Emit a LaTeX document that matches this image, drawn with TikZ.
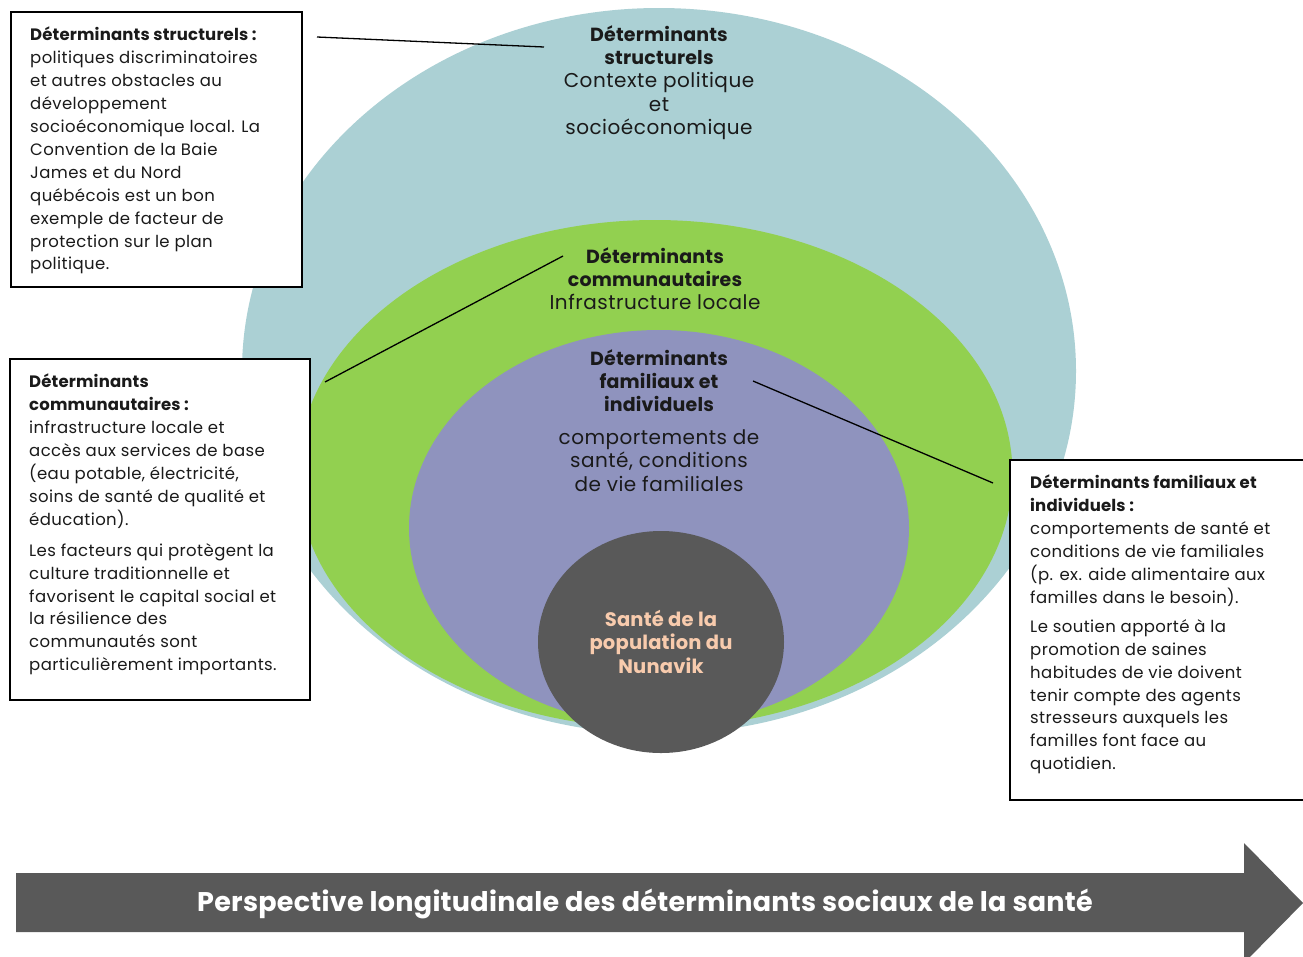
\documentclass[tikz,border=0pt]{standalone}
\usepackage{fontspec}
\setmainfont{Poppins}[LetterSpace=2.5, BoldFeatures={LetterSpace=1}]
\usetikzlibrary{shapes.geometric}
\definecolor{outerblue}{HTML}{ABD0D4}
\definecolor{midgreen}{HTML}{92D050}
\definecolor{innerpurple}{HTML}{8F93BE}
\definecolor{coregrey}{HTML}{595959}
\definecolor{peach}{HTML}{F8CBAD}
\definecolor{textgrey}{HTML}{1A1A1A}
\newcommand{\ringbold}[1]{{\bfseries\fontsize{19}{23.4}\selectfont #1}}
\tikzset{
  ring/.style={ellipse, inner sep=0pt, draw=none},
  infobox/.style={draw=black, line width=1.5pt, fill=white, inner sep=0pt, anchor=north west},
  boxtext/.style={anchor=north west, inner sep=0pt, align=left, text=textgrey, font=\fontsize{16.5}{22.9}\selectfont},
  ringtext/.style={anchor=north, inner sep=0pt, align=center, text=textgrey, font=\fontsize{20}{23.4}\selectfont},
  leader/.style={draw=black, line width=1.3pt},
}
\begin{document}
\begin{tikzpicture}[x=1pt,y=-1pt]
\useasboundingbox[fill=white] (0,0) rectangle (1303,956);
% rings
\node[ring, fill=outerblue, minimum width=834pt, minimum height=726pt] (outer) at (659,371) {};
\node[ring, fill=midgreen, minimum width=715pt, minimum height=508pt] (green) at (655,474) {};
\node[ring, fill=innerpurple, minimum width=500pt, minimum height=396pt] (purple) at (659,528) {};
\node[ring, fill=coregrey, minimum width=246pt, minimum height=222pt] (core) at (661,642) {};
% ring texts
\node[ringtext] (t1) at (659,25) {\ringbold{Déterminants}\\\ringbold{structurels}\\Contexte politique\\et\\socioéconomique};
\node[ringtext] (t2) at (655,247) {\ringbold{Déterminants}\\\ringbold{communautaires}\\Infrastructure locale};
\node[ringtext] (t3) at (659,349) {\ringbold{Déterminants}\\\ringbold{familiaux et}\\\ringbold{individuels}\\[9pt]comportements de\\santé, conditions\\de vie familiales};
\node[ringtext, text=peach, font=\bfseries\fontsize{19.5}{23.4}\selectfont] (t4) at (661,610) {Santé de la\\population du\\Nunavik};
% boxes
\node[infobox, minimum width=291pt, minimum height=275pt] (box1) at (10,11) {};
\node[boxtext] (b1) at (30,27) {\textbf{Déterminants structurels :}\\politiques discriminatoires\\et autres obstacles au\\développement\\socioéconomique local. La\\Convention de la Baie\\James et du Nord\\québécois est un bon\\exemple de facteur de\\protection sur le plan\\politique.};
\node[infobox, minimum width=300pt, minimum height=341pt] (box2) at (9,358) {};
\node[boxtext] (b2) at (29,374) {\textbf{Déterminants}\\\textbf{communautaires :}\\infrastructure locale et\\accès aux services de base\\(eau potable, électricité,\\soins de santé de qualité et\\éducation).\\[8pt]Les facteurs qui protègent la\\culture traditionnelle et\\favorisent le capital social et\\la résilience des\\communautés sont\\particulièrement importants.};
\node[infobox, minimum width=300pt, minimum height=340pt] (box3) at (1009,459) {};
\node[boxtext] (b3) at (1030,475) {\textbf{Déterminants familiaux et}\\\textbf{individuels :}\\comportements de santé et\\conditions de vie familiales\\(p. ex. aide alimentaire aux\\familles dans le besoin).\\[6pt]Le soutien apporté à la\\promotion de saines\\habitudes de vie doivent\\tenir compte des agents\\stresseurs auxquels les\\familles font face au\\quotidien.};
% leader lines
\coordinate (l1a) at (317,37);
\coordinate (l1b) at (544,47);
\coordinate (l2a) at (563,256);
\coordinate (l2b) at (325,382);
\coordinate (l3a) at (753,381);
\coordinate (l3b) at (993,483);
\draw[leader] (l1a) -- (l1b);
\draw[leader] (l2a) -- (l2b);
\draw[leader] (l3a) -- (l3b);
% bottom arrow
\fill[coregrey] (16,873) -- (1244,873) -- (1244,843) -- (1303,903) -- (1244,963) -- (1244,932) -- (16,932) -- cycle;
\node[text=white, font=\bfseries\fontsize{27}{30}\selectfont, inner sep=0pt] (arrowlabel) at (645,904) {Perspective longitudinale des déterminants sociaux de la santé};
\end{tikzpicture}
\end{document}
